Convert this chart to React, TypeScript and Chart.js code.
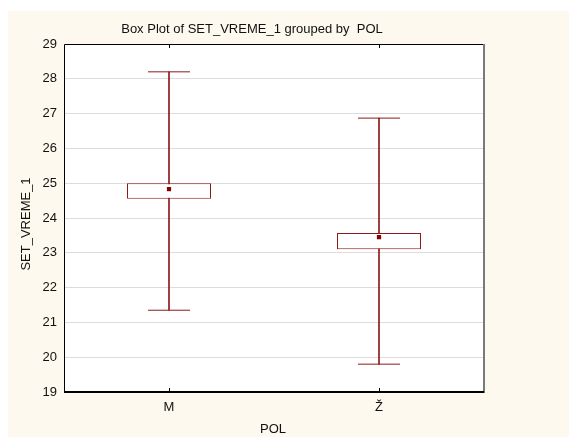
import React, { useEffect, useRef } from "react";
import { Chart, registerables } from "chart.js";

Chart.register(...registerables);

const categories = ["M", "Ž"];
const whiskerMin = [21.35, 19.8];
const boxQ1 = [24.55, 23.1];
const boxQ3 = [25.0, 23.57];
const whiskerMax = [28.2, 26.87];
const means = [24.83, 23.45];
const yMin = 19;
const yMax = 29;

const RED = "#8b1a1a";
const FONT = '"Liberation Sans", Arial, sans-serif';

const framePlugin = {
  id: "frame",
  beforeDraw(chart: any) {
    const ctx = chart.ctx;
    const { left, top, right, bottom } = chart.chartArea;
    ctx.save();
    ctx.fillStyle = "#ffffff";
    ctx.fillRect(0, 0, chart.width, chart.height);
    ctx.fillStyle = "#fef9ee";
    ctx.fillRect(8, 11, chart.width - 8, chart.height - 11);
    ctx.fillStyle = "#ffffff";
    ctx.fillRect(left, top, right - left, bottom - top);
    ctx.restore();
  },
  afterDraw(chart: any) {
    const ctx = chart.ctx;
    const { left, top, right, bottom } = chart.chartArea;
    ctx.save();
    // frame
    ctx.strokeStyle = "#000000";
    ctx.lineWidth = 1;
    ctx.beginPath();
    ctx.moveTo(left + 0.5, bottom);
    ctx.lineTo(left + 0.5, top + 0.5);
    ctx.lineTo(right, top + 0.5);
    ctx.stroke();
    ctx.strokeStyle = "#7a7a7a";
    ctx.lineWidth = 2;
    ctx.beginPath();
    ctx.moveTo(right, top);
    ctx.lineTo(right, bottom + 1);
    ctx.stroke();
    ctx.strokeStyle = "#000000";
    ctx.lineWidth = 2;
    ctx.beginPath();
    ctx.moveTo(left, bottom);
    ctx.lineTo(right, bottom);
    ctx.stroke();
    // category ticks (inward)
    const xs = chart.scales.x;
    ctx.lineWidth = 1;
    categories.forEach((_, i) => {
      const x = Math.round(xs.getPixelForValue(i)) + 0.5;
      ctx.beginPath();
      ctx.moveTo(x, top);
      ctx.lineTo(x, top + 4);
      ctx.moveTo(x, bottom);
      ctx.lineTo(x, bottom - 4);
      ctx.stroke();
    });
    // texts
    ctx.fillStyle = "#111111";
    ctx.font = `13px ${FONT}`;
    ctx.textAlign = "center";
    ctx.textBaseline = "alphabetic";
    ctx.fillText("Box Plot of SET_VREME_1 grouped by  POL", 252, 33);
    ctx.textBaseline = "middle";
    ctx.fillText("POL", 273, 429);
    ctx.translate(26, 224);
    ctx.rotate(-Math.PI / 2);
    ctx.fillText("SET_VREME_1", 0, 0);
    ctx.restore();
  },
};

export default function App() {
  const ref = useRef<HTMLCanvasElement | null>(null);
  useEffect(() => {
    if (!ref.current) return;
    const chart = new Chart(ref.current, {
      type: "bar",
      data: {
        labels: categories,
        datasets: [
          {
            type: "line",
            label: "mean",
            data: means,
            showLine: false,
            pointStyle: "rect",
            pointRadius: 3,
            pointBackgroundColor: "#8b0000",
            pointBorderColor: "#8b0000",
            pointBorderWidth: 0,
            order: 0,
          } as any,
          {
            type: "line",
            label: "max",
            data: whiskerMax,
            showLine: false,
            pointStyle: "line",
            pointRadius: 21,
            pointBorderColor: RED,
            pointBorderWidth: 1,
            order: 0,
          } as any,
          {
            type: "line",
            label: "min",
            data: whiskerMin,
            showLine: false,
            pointStyle: "line",
            pointRadius: 21,
            pointBorderColor: RED,
            pointBorderWidth: 1,
            order: 0,
          } as any,
          {
            label: "box",
            data: categories.map((_, i) => [boxQ1[i], boxQ3[i]]),
            backgroundColor: "#ffffff",
            borderColor: RED,
            borderWidth: 1,
            borderSkipped: false,
            grouped: false,
            barPercentage: 0.4,
            categoryPercentage: 1,
            order: 1,
          } as any,
          {
            label: "whisker",
            data: categories.map((_, i) => [whiskerMin[i], whiskerMax[i]]),
            backgroundColor: RED,
            borderWidth: 0,
            grouped: false,
            barThickness: 1,
            order: 2,
          } as any,
        ],
      },
      options: {
        responsive: false,
        animation: false,
        events: [],
        layout: { padding: { top: 44, right: 85, left: 0, bottom: 0 } },
        plugins: {
          legend: { display: false },
          tooltip: { enabled: false },
          title: { display: false },
        },
        scales: {
          x: {
            type: "category",
            offset: true,
            grid: { display: false, drawTicks: false },
            border: { display: false },
            ticks: {
              padding: 8,
              color: "#111111",
              font: { family: FONT, size: 13 },
            },
            afterFit: (s: any) => {
              s.height = 45;
            },
          },
          y: {
            type: "linear",
            min: yMin,
            max: yMax,
            grid: { color: "#dcdcdc", lineWidth: 1, drawTicks: false },
            border: { display: false },
            ticks: {
              stepSize: 1,
              padding: 7,
              color: "#111111",
              font: { family: FONT, size: 13 },
            },
            afterFit: (s: any) => {
              s.width = 64;
            },
          },
        },
      },
      plugins: [framePlugin],
    });
    return () => chart.destroy();
  }, []);
  return (
    <div style={{ position: "absolute", left: 0, top: 0, width: 569, height: 437 }}>
      <canvas ref={ref} width={569} height={437} style={{ display: "block" }} />
    </div>
  );
}
